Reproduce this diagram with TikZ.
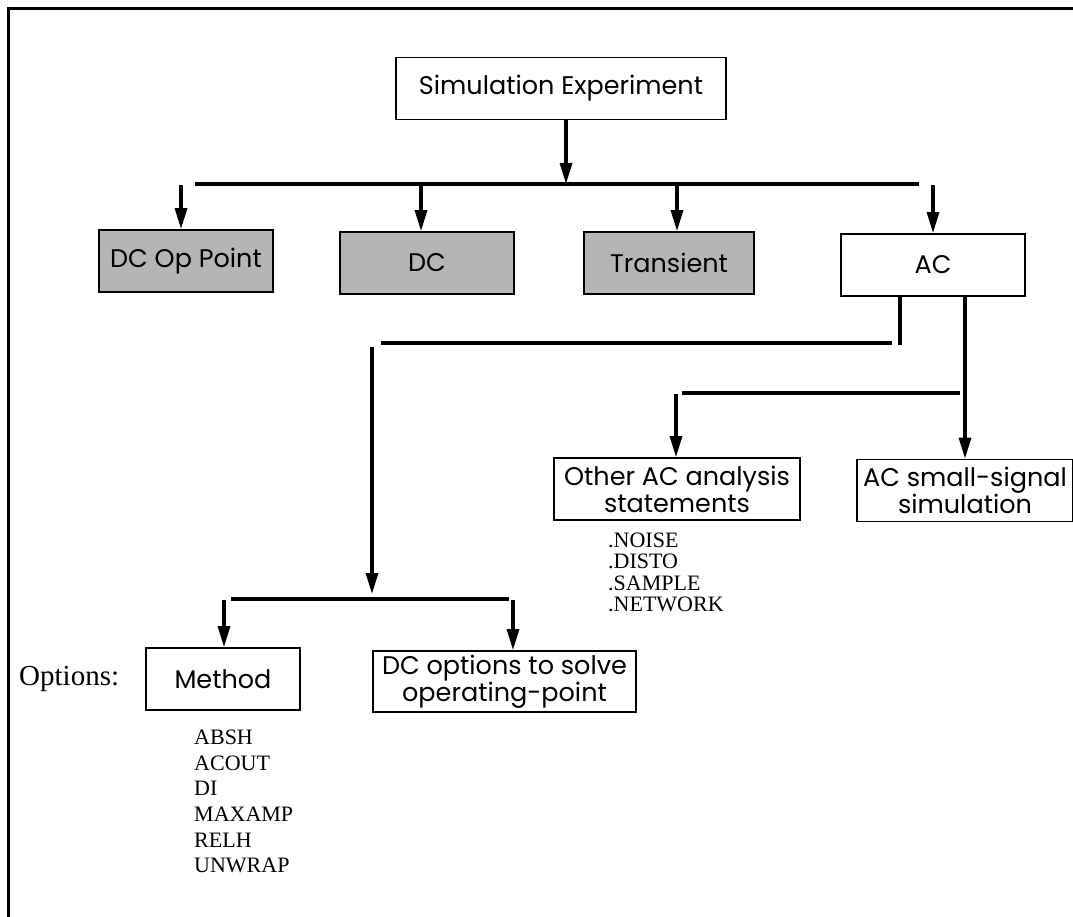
\documentclass[tikz,border=0pt]{standalone}
\usepackage{fontspec}
\setmainfont{Liberation Serif}
\newfontfamily\boxfont{Poppins}
\usetikzlibrary{arrows.meta}
\definecolor{boxgray}{gray}{0.71}
\tikzset{
  stage/.style={draw, line width=1.8pt, minimum height=62pt, inner sep=2pt, align=center,
    font=\boxfont\fontsize{25.5}{27}\selectfont},
  shaded/.style={stage, fill=boxgray},
  link/.style={line width=3.2pt},
  flow/.style={link, -{Triangle[length=21pt, width=12pt]}},
  listing/.style={anchor=north west, inner sep=0pt, align=left},
}
\begin{document}
\begin{tikzpicture}[x=1pt, y=-1pt]
  \useasboundingbox (0,0) rectangle (1073,917);
  \draw[line width=3pt] (8,917) -- (8,9) -- (1073,9);

  \node[stage, minimum width=330pt] (sim) at (561,88.5) {Simulation Experiment};
  \node[shaded, minimum width=174pt] (opp) at (186,261) {DC Op Point};
  \node[shaded, minimum width=174pt] (dc) at (427,263) {DC};
  \node[shaded, minimum width=170pt] (tran) at (669,263) {Transient};
  \node[stage, minimum width=184pt] (ac) at (933,265) {AC};
  \node[stage, minimum width=246pt, minimum height=62pt] (other) at (677,489) {Other AC analysis\\statements};
  \node[stage, minimum width=216pt, minimum height=62pt] (small) at (965,490.5) {AC small-signal\\simulation};
  \node[stage, minimum width=154pt] (method) at (223,679) {Method};
  \node[stage, minimum width=263pt, minimum height=61pt] (dcopt) at (504.5,681.5) {DC options to solve\\operating-point};

  \node[anchor=base west, inner sep=0pt, font=\fontsize{29}{32}\selectfont] (opts) at (19,685.5) {Options:};
  \node[listing, font=\fontsize{22}{21.5}\selectfont] (aclist) at (608,532.5)
    {.NOISE\\.DISTO\\.SAMPLE\\.NETWORK};
  \node[listing, font=\fontsize{22}{25.6}\selectfont] (optlist) at (194,730)
    {ABSH\\ACOUT\\DI\\MAXAMP\\RELH\\UNWRAP};

  % analysis bus
  \coordinate (busL) at (195,184);
  \coordinate (busR) at (919,184);
  \draw[link] (busL) -- (busR);
  \draw[flow] ([xshift=5pt]sim.south) -- ([xshift=5pt]sim.south |- busR);
  \foreach \n/\x in {opp/181, dc/421, tran/677, ac/933} {
    \coordinate (\n top) at (\x,185);
    \draw[flow] (\n top) -- (\n top |- \n.north);
  }

  % AC branches
  \coordinate (acStub) at (900,345);
  \draw[link] (acStub |- ac.south) -- (acStub);
  \coordinate (longR) at (892,343);
  \coordinate (longL) at (381,343);
  \draw[link] (longR) -- (longL);
  \coordinate (dnTop) at (372,347);
  \coordinate (dnEnd) at (372,594);
  \draw[flow] (dnTop) -- (dnEnd);
  \draw[flow] ([xshift=32pt]ac.south) -- ([xshift=32pt]ac.south |- small.north);
  \coordinate (shortR) at (960,393);
  \coordinate (shortL) at (682,393);
  \draw[link] (shortR) -- (shortL);
  \coordinate (otherTop) at (676,394);
  \draw[flow] (otherTop) -- (otherTop |- other.north);

  % option bus
  \coordinate (optL) at (231,599);
  \coordinate (optR) at (509,599);
  \draw[link] (optL) -- (optR);
  \coordinate (methodTop) at (224,600);
  \coordinate (dcoptTop) at (513,600);
  \draw[flow] (methodTop) -- (methodTop |- method.north);
  \draw[flow] (dcoptTop) -- (dcoptTop |- dcopt.north);
\end{tikzpicture}
\end{document}
